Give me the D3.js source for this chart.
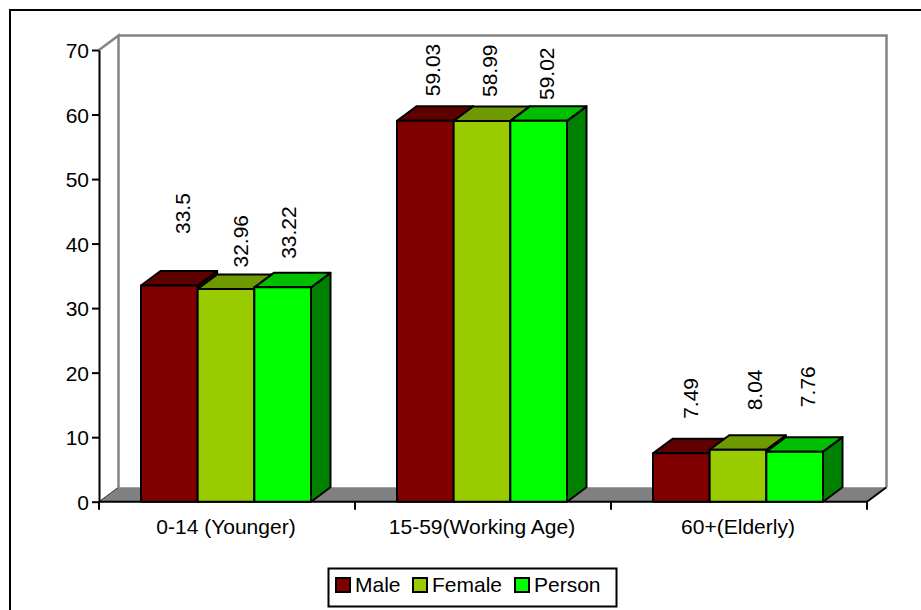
<!DOCTYPE html>
<html>
<head>
<meta charset="utf-8">
<script src="https://cdn.jsdelivr.net/npm/d3@7"></script>
<style>
  body { margin: 0; background: #fff; }
  svg { display: block; }
  text { font-family: Arial, "Liberation Sans", sans-serif; fill: #000; }
</style>
</head>
<body>
<svg id="chart" width="921" height="610"></svg>
<script>
// ---- data ----
const categories = ["0-14 (Younger)", "15-59(Working Age)", "60+(Elderly)"];
const seriesNames = ["Male", "Female", "Person"];
const maleValues = [33.5, 59.03, 7.49];
const femaleValues = [32.96, 58.99, 8.04];
const personValues = [33.22, 59.02, 7.76];
const yTicks = [0, 10, 20, 30, 40, 50, 60, 70];

// ---- layout & style ----
const seriesValues = { Male: maleValues, Female: femaleValues, Person: personValues };
const palette = {
  Male:   { front: "#800000", top: "#5f0000", side: "#400000" },
  Female: { front: "#99cc00", top: "#6e9900", side: "#4d6600" },
  Person: { front: "#00ff00", top: "#00bf00", side: "#008000" }
};
const plot = { left: 99, right: 867, top: 50, bottom: 501.7 };
const depth = { dx: 19.5, dy: -14.5 };
const fontSize = 21;
// value-label placement tweaks (horizontal shift, lift above the bar's back edge)
const labelDx = [[13.5, 14, 5.5], [7.5, 7.5, 8], [8.7, 16.7, 13]];
const labelLift = [[37, 7, 14], [10, 9.5, 6.3], [20, 25, 30]];

const svg = d3.select("#chart");

const y = d3.scaleLinear().domain([0, 70]).range([plot.bottom, plot.top]);
const x0 = d3.scaleBand().domain(categories).range([plot.left, plot.right]);
const x1 = d3.scaleBand().domain(seriesNames).range([42, 212]);

// outer frame
svg.append("path")
  .attr("d", "M10,610 V10 H921")
  .attr("fill", "none").attr("stroke", "#000").attr("stroke-width", 2);

// floor
const yb = y(0);
svg.append("polygon")
  .attr("points", [[plot.left, yb], [plot.right, yb], [plot.right + depth.dx, yb + depth.dy], [plot.left + depth.dx, yb + depth.dy]].join(" "))
  .attr("fill", "#808080");
svg.append("path")
  .attr("d", `M${plot.left},${yb} L${plot.left + depth.dx},${yb + depth.dy}`)
  .attr("stroke", "#333").attr("stroke-width", 1);
svg.append("path")
  .attr("d", `M${plot.right},${yb} L${plot.right + depth.dx},${yb + depth.dy}`)
  .attr("stroke", "#000").attr("stroke-width", 2);

// back & side wall edges
const yt = y(70);
svg.append("path")
  .attr("d", `M${plot.left},${yt} L${plot.left + depth.dx},${yt + depth.dy} V${yb + depth.dy} M${plot.left + depth.dx},${yt + depth.dy} H${plot.right + depth.dx} V${yb + depth.dy}`)
  .attr("fill", "none").attr("stroke", "#848484").attr("stroke-width", 2.5);

// y axis
const yAxis = svg.append("g")
  .attr("transform", `translate(${plot.left},0)`)
  .call(d3.axisLeft(y).tickValues(yTicks).tickSize(7).tickSizeOuter(0).tickPadding(3).tickFormat(d3.format("d")));
yAxis.select(".domain").attr("stroke", "#000").attr("stroke-width", 2);
yAxis.selectAll(".tick line").attr("stroke", "#000").attr("stroke-width", 2);
yAxis.selectAll(".tick text").attr("font-size", fontSize).attr("font-family", "Arial, 'Liberation Sans', sans-serif").attr("dy", "0.36em");

// x axis: boundary ticks + centred category labels
const boundaries = categories.map(c => x0(c)).concat([x0(categories[categories.length - 1]) + x0.bandwidth()]);
svg.append("line")
  .attr("x1", plot.left).attr("x2", plot.right).attr("y1", yb).attr("y2", yb)
  .attr("stroke", "#000").attr("stroke-width", 2);
svg.selectAll(".xtick").data(boundaries).join("line")
  .attr("class", "xtick")
  .attr("x1", d => d).attr("x2", d => d).attr("y1", yb).attr("y2", yb + 8)
  .attr("stroke", "#000").attr("stroke-width", 2);
svg.selectAll(".xlabel").data(categories).join("text")
  .attr("class", "xlabel")
  .attr("x", d => x0(d) + x0.bandwidth() / 2 - 1)
  .attr("y", 534)
  .attr("text-anchor", "middle")
  .attr("font-size", fontSize)
  .text(d => d);

// 3D bars, drawn left to right so nearer faces overlap
const bars = [];
categories.forEach((cat, ci) => {
  seriesNames.forEach((s, si) => {
    bars.push({ cat, ci, s, si, v: seriesValues[s][ci] });
  });
});

const barG = svg.append("g").attr("stroke", "#000").attr("stroke-width", 2).attr("stroke-linejoin", "round");
bars.forEach(b => {
  const xl = x0(b.cat) + x1(b.s);
  const w = x1.bandwidth();
  const top = y(b.v);
  const g = barG.append("g");
  g.append("polygon")
    .attr("points", [[xl + w, top], [xl + w + depth.dx, top + depth.dy], [xl + w + depth.dx, yb + depth.dy], [xl + w, yb]].join(" "))
    .attr("fill", palette[b.s].side);
  g.append("polygon")
    .attr("points", [[xl, top], [xl + depth.dx, top + depth.dy], [xl + w + depth.dx, top + depth.dy], [xl + w, top]].join(" "))
    .attr("fill", palette[b.s].top);
  g.append("rect")
    .attr("x", xl).attr("y", top).attr("width", w).attr("height", yb - top)
    .attr("fill", palette[b.s].front);
});

// value labels, rotated
svg.selectAll(".vlabel").data(bars).join("text")
  .attr("class", "vlabel")
  .attr("font-size", fontSize)
  .attr("transform", b => {
    const cx = x0(b.cat) + x1(b.s) + x1.bandwidth() / 2 + labelDx[b.ci][b.si];
    const by = y(b.v) + depth.dy - labelLift[b.ci][b.si];
    return `translate(${cx},${by}) rotate(-90)`;
  })
  .attr("dy", "0.36em")
  .text(b => b.v);

// legend
const legend = svg.append("g");
legend.append("rect")
  .attr("x", 328.5).attr("y", 568.5).attr("width", 288).attr("height", 38)
  .attr("fill", "#fff").attr("stroke", "#000").attr("stroke-width", 2);
const legendX = [336, 413, 515];
seriesNames.forEach((s, i) => {
  legend.append("rect")
    .attr("x", legendX[i]).attr("y", 578).attr("width", 14).attr("height", 14)
    .attr("fill", palette[s].front).attr("stroke", "#000").attr("stroke-width", 2);
  legend.append("text")
    .attr("x", legendX[i] + 19).attr("y", 592)
    .attr("font-size", fontSize)
    .text(s);
});
</script>
</body>
</html>
